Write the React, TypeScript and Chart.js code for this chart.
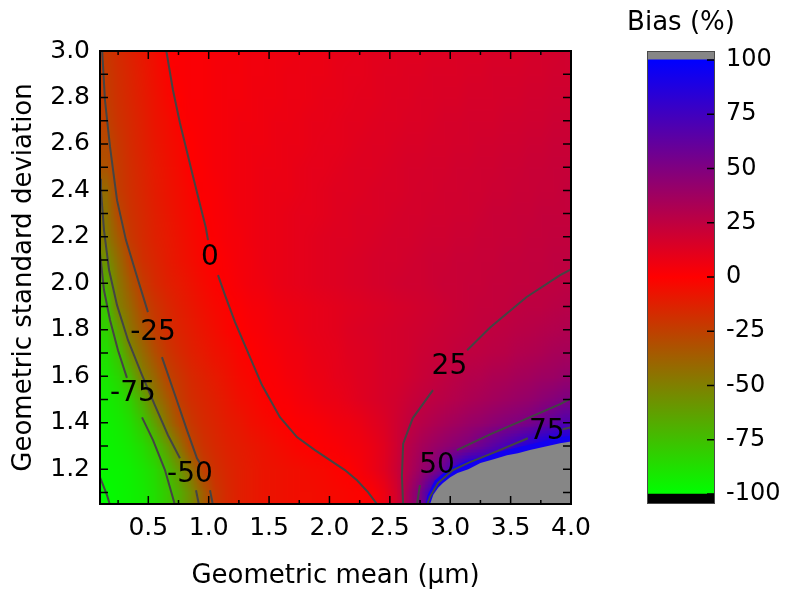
import React, { useEffect, useRef } from 'react';
import { Chart, registerables } from 'chart.js';

Chart.register(...registerables);

const FONT = '"DejaVu Sans", "Liberation Sans", sans-serif';

// ---- axes ----
const X_RANGE = [0.1, 4.0];
const Y_RANGE = [1.05, 3.0];
const X_TICKS = [0.5, 1.0, 1.5, 2.0, 2.5, 3.0, 3.5, 4.0];
const Y_TICKS = [1.2, 1.4, 1.6, 1.8, 2.0, 2.2, 2.4, 2.6, 2.8, 3.0];
const X_MINOR_TICKS = [0.25, 0.5, 0.75, 1.0, 1.25, 1.5, 1.75, 2.0, 2.25, 2.5, 2.75, 3.0, 3.25, 3.5, 3.75];
const Y_MINOR_TICKS = [1.1, 1.2, 1.3, 1.4, 1.5, 1.6, 1.7, 1.8, 1.9, 2.0, 2.1, 2.2, 2.3, 2.4, 2.5, 2.6, 2.7, 2.8, 2.9];

// ---- colour bar ----
const CB_TITLE = 'Bias (%)';
const CB_TICKS = [-100, -75, -50, -25, 0, 25, 50, 75, 100];
const CB_UNDER = [-104.6, -100];
const CB_SCALE = [-100, 100];
const CB_OVER = [100, 104.1];

// ---- bias field (%), cell centres ----
const X_CENTERS = [0.15, 0.25, 0.35, 0.45, 0.55, 0.65, 0.75, 0.85, 0.95, 1.05, 1.15, 1.25, 1.35, 1.45, 1.55, 1.65, 1.75, 1.85, 1.95, 2.05, 2.15, 2.25, 2.35, 2.45, 2.55, 2.65, 2.75, 2.85, 2.95, 3.05, 3.15, 3.25, 3.35, 3.45, 3.55, 3.65, 3.75, 3.85, 3.95];
const Y_CENTERS = [3.0, 2.9, 2.8, 2.7, 2.6, 2.5, 2.4, 2.3, 2.2, 2.1, 2.0, 1.9, 1.8, 1.7, 1.6, 1.5, 1.4, 1.3, 1.2, 1.1];

const ROW_300 = [-22, -17, -13, -9, -5, 0, 1, 2, 2, 3, 3, 4, 5, 5, 6, 6, 7, 7, 8, 9, 9, 10, 11, 11, 12, 12, 12, 13, 13, 14, 14, 14, 15, 15, 15, 16, 17, 17, 18];
const ROW_290 = [-23, -18, -14, -10, -6, -2, 1, 2, 2, 3, 4, 4, 5, 5, 6, 7, 7, 8, 8, 9, 10, 10, 11, 12, 12, 13, 13, 14, 14, 14, 15, 15, 16, 16, 16, 17, 17, 18, 18];
const ROW_280 = [-24, -19, -15, -11, -7, -3, 0, 2, 2, 3, 4, 4, 5, 6, 6, 7, 7, 8, 9, 9, 10, 11, 11, 12, 13, 13, 14, 14, 15, 15, 16, 16, 16, 17, 17, 18, 18, 19, 19];
const ROW_270 = [-26, -20, -16, -12, -8, -5, -1, 1, 2, 3, 4, 5, 5, 6, 7, 7, 8, 9, 9, 10, 11, 11, 12, 13, 13, 14, 14, 15, 16, 16, 17, 17, 17, 18, 18, 19, 19, 20, 20];
const ROW_260 = [-29, -22, -17, -13, -9, -6, -3, 0, 2, 3, 4, 5, 6, 6, 7, 8, 8, 9, 10, 10, 11, 12, 13, 13, 14, 15, 15, 16, 16, 17, 17, 18, 18, 19, 19, 20, 20, 21, 21];
const ROW_250 = [-32, -23, -18, -14, -10, -7, -4, 0, 1, 3, 4, 5, 6, 7, 7, 8, 9, 10, 10, 11, 12, 13, 13, 14, 15, 16, 16, 17, 17, 18, 18, 19, 19, 20, 20, 21, 21, 22, 22];
const ROW_240 = [-42, -24, -19, -15, -11, -8, -5, -2, 1, 2, 4, 5, 6, 7, 8, 8, 9, 10, 11, 12, 12, 13, 14, 15, 15, 16, 17, 17, 18, 18, 19, 19, 20, 20, 21, 21, 22, 22, 23];
const ROW_230 = [-45, -28, -20, -16, -12, -9, -6, -3, 0, 2, 3, 5, 6, 7, 8, 9, 10, 10, 11, 12, 13, 14, 14, 15, 16, 17, 17, 18, 18, 19, 19, 20, 21, 21, 22, 22, 23, 23, 23];
const ROW_220 = [-48, -35, -22, -17, -13, -10, -7, -4, -1, 1, 3, 4, 6, 7, 8, 9, 10, 11, 12, 13, 13, 14, 15, 16, 17, 17, 18, 19, 19, 20, 20, 21, 21, 22, 22, 23, 23, 24, 24];
const ROW_210 = [-57, -42, -27, -19, -15, -11, -8, -5, -2, 0, 2, 4, 5, 7, 8, 9, 10, 11, 12, 13, 14, 15, 16, 17, 17, 18, 19, 20, 20, 21, 21, 22, 22, 23, 23, 24, 24, 25, 25];
const ROW_200 = [-68, -47, -34, -23, -17, -13, -10, -7, -4, -1, 1, 3, 5, 6, 8, 9, 10, 11, 12, 13, 14, 15, 16, 17, 18, 19, 19, 20, 21, 21, 22, 22, 23, 23, 24, 24, 25, 25, 26];
const ROW_190 = [-77, -50, -40, -28, -21, -16, -12, -9, -6, -3, -1, 1, 3, 4, 6, 7, 8, 9, 10, 11, 12, 13, 14, 15, 16, 17, 18, 19, 20, 21, 22, 23, 23, 24, 25, 26, 26, 27, 28];
const ROW_180 = [-82, -63, -45, -34, -24, -18, -14, -11, -8, -5, -2, 0, 2, 3, 5, 6, 8, 9, 10, 11, 13, 14, 15, 16, 17, 18, 19, 20, 21, 22, 23, 24, 25, 26, 27, 28, 29, 30, 31];
const ROW_170 = [-87, -76, -54, -42, -31, -22, -17, -13, -10, -7, -5, -2, 0, 2, 3, 5, 6, 8, 9, 10, 12, 13, 14, 16, 17, 18, 20, 21, 22, 24, 25, 26, 27, 28, 30, 31, 32, 34, 35];
const ROW_160 = [-90, -84, -70, -50, -40, -27, -21, -16, -13, -10, -7, -4, -2, 1, 2, 4, 5, 7, 8, 10, 11, 13, 14, 16, 17, 19, 21, 23, 25, 27, 29, 30, 32, 33, 35, 36, 38, 39, 41];
const ROW_150 = [-93, -89, -81, -67, -48, -36, -24, -18, -15, -12, -9, -6, -4, -1, 1, 2, 4, 5, 7, 8, 10, 12, 14, 16, 18, 21, 24, 26, 28, 30, 32, 34, 36, 38, 40, 42, 45, 48, 51];
const ROW_140 = [-95, -92, -87, -78, -63, -45, -31, -22, -17, -14, -11, -9, -6, -4, -2, 0, 1, 2, 3, 5, 6, 8, 11, 14, 19, 24, 28, 31, 34, 37, 40, 42, 45, 48, 50, 53, 58, 63, 69];
const ROW_130 = [-96, -94, -91, -86, -77, -62, -45, -28, -20, -16, -13, -11, -9, -7, -5, -3, -1, 0, 1, 2, 4, 5, 8, 12, 19, 28, 34, 39, 43, 47, 51, 58, 65, 72, 80, 88, 96, 105, 110];
const ROW_120 = [-97, -96, -94, -90, -85, -74, -60, -44, -25, -19, -15, -12, -10, -8, -7, -6, -5, -4, -3, -1, 0, 3, 7, 12, 20, 30, 40, 48, 62, 82, 102, 110, 110, 110, 110, 110, 110, 110, 110];
const ROW_110 = [-99, -97, -95, -92, -87, -79, -68, -55, -37, -22, -16, -12, -10, -8, -7, -6, -5, -5, -4, -3, -2, -1, 1, 7, 17, 35, 52, 80, 110, 110, 110, 110, 110, 110, 110, 110, 110, 110, 110];

const BIAS_ROWS = [ROW_300, ROW_290, ROW_280, ROW_270, ROW_260, ROW_250, ROW_240, ROW_230, ROW_220, ROW_210, ROW_200, ROW_190, ROW_180, ROW_170, ROW_160, ROW_150, ROW_140, ROW_130, ROW_120, ROW_110];

// ---- contour lines (segments broken at the labels), [x, y] ----
const CONTOUR_M100 = [[[0.1, 1.165], [0.133, 1.122], [0.158, 1.088], [0.183, 1.045]]];
const CONTOUR_M75 = [
  [[0.1, 2.13], [0.133, 1.971], [0.183, 1.842], [0.249, 1.712], [0.323, 1.593]],
  [[0.448, 1.423], [0.539, 1.325], [0.638, 1.196], [0.721, 1.045]],
];
const CONTOUR_M50 = [
  [[0.1, 2.45], [0.108, 2.401], [0.133, 2.229], [0.175, 2.057], [0.241, 1.906], [0.332, 1.755], [0.448, 1.605], [0.555, 1.475], [0.663, 1.346], [0.762, 1.247]],
  [[0.895, 1.109], [0.92, 1.045]],
];
const CONTOUR_M25 = [
  [[0.117, 3.01], [0.141, 2.789], [0.183, 2.587], [0.241, 2.358], [0.315, 2.186], [0.415, 2.014], [0.497, 1.876]],
  [[0.613, 1.682], [0.721, 1.519], [0.82, 1.368], [0.903, 1.247], [0.928, 1.226]],
  [[1.011, 1.109], [1.035, 1.045]],
];
const CONTOUR_0 = [
  [[0.646, 3.01], [0.704, 2.832], [0.762, 2.69], [0.878, 2.444], [0.977, 2.238], [0.994, 2.186]],
  [[1.077, 2.035], [1.135, 1.949], [1.218, 1.833], [1.317, 1.712], [1.441, 1.562], [1.59, 1.424], [1.731, 1.338], [1.88, 1.282], [2.004, 1.239], [2.128, 1.196], [2.228, 1.152], [2.319, 1.101], [2.4, 1.045]],
];
const CONTOUR_25 = [
  [[4.01, 2.063], [3.91, 2.035], [3.63, 1.94], [3.33, 1.81], [3.14, 1.712]],
  [[2.857, 1.54], [2.69, 1.42], [2.61, 1.31], [2.6, 1.17], [2.61, 1.045]],
];
const CONTOUR_50 = [
  [[4.01, 1.507], [3.91, 1.48], [3.6, 1.41], [3.33, 1.35], [3.055, 1.282]],
  [[2.749, 1.131], [2.724, 1.045]],
];
const CONTOUR_75 = [
  [[4.01, 1.381], [3.93, 1.372]],
  [[3.643, 1.333], [3.35, 1.269], [3.163, 1.23], [3.022, 1.196], [2.898, 1.14], [2.832, 1.08], [2.807, 1.045]],
];
const CONTOURS = [CONTOUR_M100, CONTOUR_M75, CONTOUR_M50, CONTOUR_M25, CONTOUR_0, CONTOUR_25, CONTOUR_50, CONTOUR_75];

// ---- bands near the top of the scale, read as outlines ----
const BAND_90_UP = [[2.795, 1.045], [2.81, 1.085], [2.87, 1.15], [2.97, 1.195], [3.12, 1.232], [3.3, 1.26], [3.5, 1.287], [3.7, 1.31], [3.9, 1.336], [4.01, 1.345], [4.01, 1.04], [2.795, 1.04]];
const OVER_100 = [[2.83, 1.045], [2.86, 1.09], [2.9, 1.12], [2.94, 1.14], [3.0, 1.165], [3.06, 1.183], [3.15, 1.2], [3.25, 1.226], [3.36, 1.243], [3.47, 1.26], [3.56, 1.268], [3.66, 1.282], [3.78, 1.296], [3.91, 1.312], [4.01, 1.32], [4.01, 1.04], [2.83, 1.04]];

const LABEL_TEXT = ['0', '-25', '-75', '-50', '25', '50', '75'];
const LABEL_X = [1.011, 0.539, 0.373, 0.845, 2.993, 2.89, 3.8];
const LABEL_Y = [2.109, 1.786, 1.523, 1.174, 1.643, 1.213, 1.359];

const GRAY = 'rgb(134,134,134)';

function biasRGB(v: number): [number, number, number] {
  if (v > 100) return [134, 134, 134];
  if (v < -100) return [0, 0, 0];
  if (v >= 0) {
    const t = v / 100;
    return [Math.round(255 * (1 - t)), 0, Math.round(255 * t)];
  }
  const t = -v / 100;
  return [Math.round(255 * (1 - t)), Math.round(255 * t), 0];
}
function biasColor(v: number): string {
  const [r, g, b] = biasRGB(v);
  return `rgb(${r},${g},${b})`;
}

// Heat map: one image pixel per cell, placed on the chart's scales.
const heatmapPlugin = {
  id: 'heatmap',
  beforeDatasetsDraw(chart: any) {
    const { ctx, chartArea: a, scales } = chart;
    const xs = scales.x;
    const ys = scales.y;
    const nx = X_CENTERS.length;
    const ny = Y_CENTERS.length;
    const off = document.createElement('canvas');
    off.width = nx;
    off.height = ny;
    const octx = off.getContext('2d') as CanvasRenderingContext2D;
    const img = octx.createImageData(nx, ny);
    BIAS_ROWS.forEach((row, r) => {
      row.forEach((v, c) => {
        // over-range cells are drawn by the OVER_100 outline; keep the image at the top colour there
        const [R, G, B] = biasRGB(Math.min(v, 100));
        const k = (r * nx + c) * 4;
        img.data[k] = R;
        img.data[k + 1] = G;
        img.data[k + 2] = B;
        img.data[k + 3] = 255;
      });
    });
    octx.putImageData(img, 0, 0);
    const hx = (X_CENTERS[1] - X_CENTERS[0]) / 2;
    const hy = (Y_CENTERS[0] - Y_CENTERS[1]) / 2;
    const x0 = xs.getPixelForValue(X_CENTERS[0] - hx);
    const x1 = xs.getPixelForValue(X_CENTERS[nx - 1] + hx);
    const y0 = ys.getPixelForValue(Y_CENTERS[0] + hy);
    const y1 = ys.getPixelForValue(Y_CENTERS[ny - 1] - hy);
    ctx.save();
    ctx.beginPath();
    ctx.rect(a.left, a.top, a.right - a.left, a.bottom - a.top);
    ctx.clip();
    ctx.imageSmoothingEnabled = true;
    ctx.imageSmoothingQuality = 'low';
    ctx.drawImage(off, 0, 0, nx, ny, x0, y0, x1 - x0, y1 - y0);
    ctx.restore();
  },
};

const framePlugin = {
  id: 'frame',
  afterDatasetsDraw(chart: any) {
    const { ctx, chartArea: a, scales } = chart;
    const xs = scales.x;
    const ys = scales.y;
    ctx.save();
    ctx.font = `28px ${FONT}`;
    ctx.fillStyle = '#000';
    ctx.textAlign = 'center';
    ctx.textBaseline = 'middle';
    LABEL_TEXT.forEach((t, i) => {
      ctx.fillText(t, xs.getPixelForValue(LABEL_X[i]), ys.getPixelForValue(LABEL_Y[i]));
    });
    ctx.strokeStyle = '#000';
    ctx.lineWidth = 1.5;
    ctx.beginPath();
    X_MINOR_TICKS.forEach((v) => {
      const px = xs.getPixelForValue(v);
      const len = X_TICKS.some((t) => Math.abs(t - v) < 1e-6) ? 8 : 4;
      ctx.moveTo(px, a.bottom);
      ctx.lineTo(px, a.bottom - len);
      ctx.moveTo(px, a.top);
      ctx.lineTo(px, a.top + len);
    });
    Y_MINOR_TICKS.forEach((v) => {
      const py = ys.getPixelForValue(v);
      ctx.moveTo(a.left, py);
      ctx.lineTo(a.left + 8, py);
      ctx.moveTo(a.right, py);
      ctx.lineTo(a.right - 8, py);
    });
    ctx.stroke();
    ctx.lineWidth = 2;
    ctx.strokeRect(a.left, a.top, a.right - a.left, a.bottom - a.top);
    ctx.restore();
  },
};

const cbFramePlugin = {
  id: 'cbframe',
  afterDatasetsDraw(chart: any) {
    const { ctx, chartArea: a, scales } = chart;
    const ys = scales.y;
    ctx.save();
    ctx.strokeStyle = '#000';
    ctx.lineWidth = 1.5;
    ctx.beginPath();
    CB_TICKS.forEach((v) => {
      const py = ys.getPixelForValue(v);
      ctx.moveTo(a.right, py);
      ctx.lineTo(a.right - 8, py);
    });
    ctx.stroke();
    ctx.strokeStyle = '#4a4a4a';
    ctx.lineWidth = 1;
    ctx.strokeRect(a.left + 0.5, a.top + 0.5, a.right - a.left - 1, a.bottom - a.top - 1);
    ctx.font = `26px ${FONT}`;
    ctx.fillStyle = '#000';
    ctx.textAlign = 'center';
    ctx.textBaseline = 'middle';
    ctx.fillText(CB_TITLE, (a.left + a.right) / 2, a.top - 28);
    ctx.restore();
  },
};

function mainConfig(): any {
  const datasets: any[] = [];
  CONTOURS.forEach((segs) =>
    segs.forEach((seg) =>
      datasets.push({
        data: seg.map(([x, y]) => ({ x, y })),
        showLine: true,
        borderColor: '#444444',
        borderWidth: 2,
        pointRadius: 0,
        pointHoverRadius: 0,
        fill: false,
        tension: 0,
        order: 0,
      })
    )
  );
  datasets.push({
    data: OVER_100.map(([x, y]) => ({ x, y })),
    showLine: true,
    borderWidth: 0,
    borderColor: 'rgba(0,0,0,0)',
    backgroundColor: GRAY,
    fill: 'shape',
    pointRadius: 0,
    tension: 0,
    order: 1,
  });
  datasets.push({
    data: BAND_90_UP.map(([x, y]) => ({ x, y })),
    showLine: true,
    borderWidth: 0,
    borderColor: 'rgba(0,0,0,0)',
    backgroundColor: 'rgb(18,0,240)',
    fill: 'shape',
    pointRadius: 0,
    tension: 0,
    order: 2,
  });
  return {
    type: 'scatter',
    data: { datasets },
    options: {
      animation: false,
      responsive: false,
      maintainAspectRatio: false,
      events: [],
      layout: { padding: { top: 51, right: 214, bottom: 0, left: 0 } },
      plugins: { legend: { display: false }, tooltip: { enabled: false }, title: { display: false } },
      scales: {
        x: {
          type: 'linear',
          min: X_RANGE[0],
          max: X_RANGE[1],
          position: 'bottom',
          grid: { display: false, drawTicks: false },
          border: { display: false },
          afterBuildTicks: (s: any) => {
            s.ticks = X_TICKS.map((v) => ({ value: v }));
          },
          afterFit: (s: any) => {
            s.height = 95;
          },
          ticks: {
            font: { family: FONT, size: 25 },
            color: '#000',
            padding: 9,
            maxRotation: 0,
            autoSkip: false,
            callback: (v: any) => Number(v).toFixed(1),
          },
          title: {
            display: true,
            text: 'Geometric mean (μm)',
            font: { family: FONT, size: 26 },
            color: '#000',
            padding: { top: 0, bottom: 7 },
          },
        },
        y: {
          type: 'linear',
          min: Y_RANGE[0],
          max: Y_RANGE[1],
          position: 'left',
          grid: { display: false, drawTicks: false },
          border: { display: false },
          afterBuildTicks: (s: any) => {
            s.ticks = Y_TICKS.map((v) => ({ value: v }));
          },
          afterFit: (s: any) => {
            s.width = 100;
          },
          ticks: {
            font: { family: FONT, size: 25 },
            color: '#000',
            padding: 10,
            autoSkip: false,
            callback: (v: any) => Number(v).toFixed(1),
          },
          title: {
            display: true,
            text: 'Geometric standard deviation',
            font: { family: FONT, size: 26 },
            color: '#000',
            padding: { top: 9, bottom: 0 },
          },
        },
      },
    },
    plugins: [heatmapPlugin, framePlugin],
  };
}

function cbConfig(): any {
  const gradient = (context: any) => {
    const chart = context.chart;
    const ys = chart.scales && chart.scales.y;
    if (!chart.chartArea || !ys) return biasColor(0);
    const top = ys.getPixelForValue(CB_SCALE[1]);
    const bot = ys.getPixelForValue(CB_SCALE[0]);
    const g = chart.ctx.createLinearGradient(0, top, 0, bot);
    CB_TICKS.forEach((v) => g.addColorStop((CB_SCALE[1] - v) / (CB_SCALE[1] - CB_SCALE[0]), biasColor(v)));
    return g;
  };
  const common = { grouped: false, barPercentage: 1, categoryPercentage: 1, borderWidth: 0 };
  return {
    type: 'bar',
    data: {
      labels: [''],
      datasets: [
        { ...common, data: [CB_UNDER], backgroundColor: '#000' },
        { ...common, data: [CB_SCALE], backgroundColor: gradient },
        { ...common, data: [CB_OVER], backgroundColor: GRAY },
      ],
    },
    options: {
      animation: false,
      responsive: false,
      maintainAspectRatio: false,
      events: [],
      layout: { padding: { left: 647, right: 0, top: 51, bottom: 95 } },
      plugins: {
        legend: { display: false },
        tooltip: { enabled: false },
        title: { display: false },
      },
      scales: {
        x: { display: false },
        y: {
          position: 'right',
          min: CB_UNDER[0],
          max: CB_OVER[1],
          grid: { display: false, drawTicks: false },
          border: { display: false },
          afterBuildTicks: (s: any) => {
            s.ticks = CB_TICKS.map((v) => ({ value: v }));
          },
          afterFit: (s: any) => {
            s.width = 70;
          },
          ticks: {
            font: { family: FONT, size: 24 },
            color: '#000',
            padding: 11,
            autoSkip: false,
            callback: (v: any) => String(v),
          },
        },
      },
    },
    plugins: [cbFramePlugin],
  };
}

export default function App() {
  const mainRef = useRef<HTMLCanvasElement>(null);
  const cbRef = useRef<HTMLCanvasElement>(null);
  useEffect(() => {
    const main = new Chart(mainRef.current as HTMLCanvasElement, mainConfig());
    const cb = new Chart(cbRef.current as HTMLCanvasElement, cbConfig());
    return () => {
      main.destroy();
      cb.destroy();
    };
  }, []);
  const cs: React.CSSProperties = { position: 'absolute', left: 0, top: 0, width: 785, height: 599 };
  return (
    <div style={{ position: 'absolute', left: 0, top: 0, width: 785, height: 599, background: '#fff' }}>
      <canvas ref={mainRef} width={785} height={599} style={cs} />
      <canvas ref={cbRef} width={785} height={599} style={cs} />
    </div>
  );
}
